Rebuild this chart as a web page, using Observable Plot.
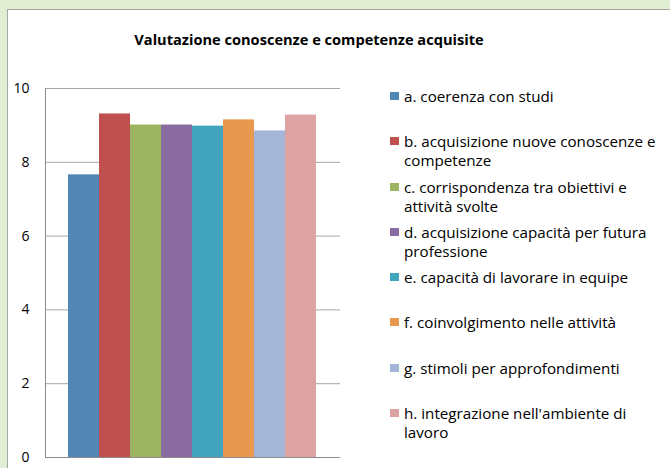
<!DOCTYPE html>
<html>
<head>
<meta charset="utf-8">
<script src="https://cdn.jsdelivr.net/npm/d3@7"></script>
<script src="https://cdn.jsdelivr.net/npm/@observablehq/plot@0.6"></script>
<style>
  html, body { margin: 0; padding: 0; }
  body { width: 670px; height: 468px; background: #e2eed4; position: relative; overflow: hidden; font-family: "Open Sans", Lato, sans-serif; }
  #panel { position: absolute; left: 7px; top: 9px; width: 700px; height: 500px; background: #fff; border: 1px solid #a6a6a6; }
  #title { position: absolute; left: 0; width: 618px; top: 29px; text-align: center; font-weight: bold; font-size: 14.6px; color: #000; }
  #chart { position: absolute; left: 0; top: 0; }
  #legend { position: absolute; left: 390px; top: 87px; }
  .item { height: 45.3px; display: flex; align-items: flex-start; }
  .sw { width: 9px; height: 8px; margin-top: 5px; margin-right: 5px; flex: none; }
  .lbl { font-size: 15.2px; line-height: 19px; color: #000; white-space: pre-line; }
</style>
</head>
<body>
<div id="panel"></div>
<div id="title"></div>
<div id="chart"></div>
<div id="legend"></div>
<script>
const title = "Valutazione conoscenze e competenze acquisite";
const categories = ["a", "b", "c", "d", "e", "f", "g", "h"];
const labels = [
  "a. coerenza con studi",
  "b. acquisizione nuove conoscenze e\ncompetenze",
  "c. corrispondenza tra obiettivi e\nattività svolte",
  "d. acquisizione capacità per futura\nprofessione",
  "e. capacità di lavorare in equipe",
  "f. coinvolgimento nelle attività",
  "g. stimoli per approfondimenti",
  "h. integrazione nell'ambiente di\nlavoro"
];
const values = [7.66, 9.31, 9.01, 9.01, 8.98, 9.15, 8.85, 9.28];
const colors = ["#5286b5", "#c0504d", "#9bb562", "#896b9f", "#42a5bd", "#e8994f", "#a3b6d8", "#dca3a2"];
const yTicks = [0, 2, 4, 6, 8, 10];

const data = categories.map((c, i) => ({cat: c, value: values[i]}));

document.getElementById("title").textContent = title;

const plot = Plot.plot({
  width: 670,
  height: 468,
  marginLeft: 45,
  marginRight: 330,
  marginTop: 88,
  marginBottom: 11,
  style: {fontFamily: "'Open Sans', Lato, sans-serif", fontSize: "14px", background: "transparent", color: "#000"},
  x: {domain: categories, padding: 0, insetLeft: 22, insetRight: 23, axis: null},
  y: {domain: [0, 10], ticks: yTicks},
  color: {domain: categories, range: colors},
  marks: [
    Plot.ruleY(yTicks.slice(1), {stroke: "#a6a6a6", strokeWidth: 1}),
    Plot.barY(data, {x: "cat", y: "value", fill: "cat"}),
    Plot.ruleY([0], {stroke: "#8c8c8c", strokeWidth: 1}),
    Plot.frame({anchor: "left", stroke: "#8c8c8c"}),
    Plot.axisY({ticks: yTicks, tickSize: 0, tickPadding: 16, label: null, fill: "#000"})
  ]
});
document.getElementById("chart").appendChild(plot);

const legend = document.getElementById("legend");
categories.forEach((c, i) => {
  const item = document.createElement("div");
  item.className = "item";
  const sw = document.createElement("div");
  sw.className = "sw";
  sw.style.background = colors[i];
  const lbl = document.createElement("div");
  lbl.className = "lbl";
  lbl.textContent = labels[i];
  item.appendChild(sw);
  item.appendChild(lbl);
  legend.appendChild(item);
});
</script>
</body>
</html>
